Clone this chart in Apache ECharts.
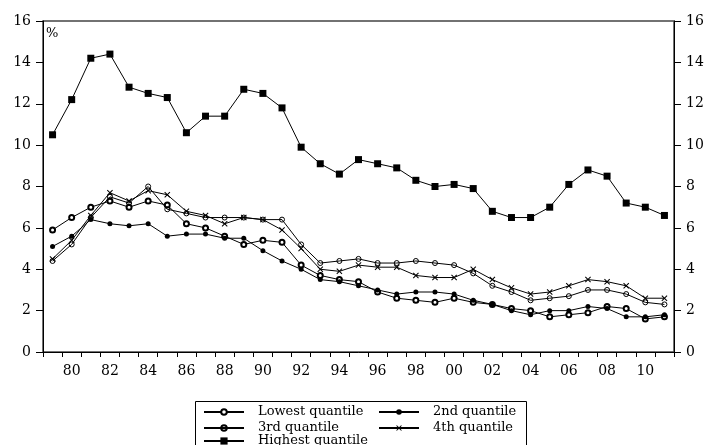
<!DOCTYPE html>
<html><head><meta charset="utf-8">
<script src="https://cdn.jsdelivr.net/npm/echarts@6/dist/echarts.min.js"></script>
<style>html,body{margin:0;padding:0;background:#fff}#c{width:707px;height:445px}</style>
</head><body><div id="c"></div>
<script>
const years = [1979,1980,1981,1982,1983,1984,1985,1986,1987,1988,1989,1990,1991,1992,1993,1994,1995,1996,1997,1998,1999,2000,2001,2002,2003,2004,2005,2006,2007,2008,2009,2010,2011];
const lowest  = [5.9,6.5,7.0,7.3,7.0,7.3,7.1,6.2,6.0,5.6,5.2,5.4,5.3,4.2,3.7,3.5,3.4,2.9,2.6,2.5,2.4,2.6,2.4,2.3,2.1,2.0,1.7,1.8,1.9,2.2,2.1,1.6,1.7];
const second  = [5.1,5.6,6.4,6.2,6.1,6.2,5.6,5.7,5.7,5.5,5.5,4.9,4.4,4.0,3.5,3.4,3.2,3.0,2.8,2.9,2.9,2.8,2.5,2.3,2.0,1.8,2.0,2.0,2.2,2.1,1.7,1.7,1.8];
const third   = [4.4,5.2,6.5,7.5,7.2,8.0,6.9,6.7,6.5,6.5,6.5,6.4,6.4,5.2,4.3,4.4,4.5,4.3,4.3,4.4,4.3,4.2,3.8,3.2,2.9,2.5,2.6,2.7,3.0,3.0,2.8,2.4,2.3];
const fourth  = [4.5,5.4,6.6,7.7,7.3,7.8,7.6,6.8,6.6,6.2,6.5,6.4,5.9,5.0,4.0,3.9,4.2,4.1,4.1,3.7,3.6,3.6,4.0,3.5,3.1,2.8,2.9,3.2,3.5,3.4,3.2,2.6,2.6];
const highest = [10.5,12.2,14.2,14.4,12.8,12.5,12.3,10.6,11.4,11.4,12.7,12.5,11.8,9.9,9.1,8.6,9.3,9.1,8.9,8.3,8.0,8.1,7.9,6.8,6.5,6.5,7.0,8.1,8.8,8.5,7.2,7.0,6.6];
const names = ['Lowest quantile','2nd quantile','3rd quantile','4th quantile','Highest quantile'];

const FONT = 'DejaVu Serif';
const XPATH = 'path://M0,1.2L1.2,0L5,3.8L8.8,0L10,1.2L6.2,5L10,8.8L8.8,10L5,6.2L1.2,10L0,8.8L3.8,5Z';
const chart = echarts.init(document.getElementById('c'), null, {renderer:'canvas'});
function ser(name, data, symbol, size, itemStyle){
  return {name, type:'line', data, symbol, symbolSize:size, showSymbol:true,
    lineStyle:{color:'#000', width:1}, itemStyle, emphasis:{disabled:true}, animation:false, z: 3};
}
const yAxisBase = {type:'value', min:0, max:16, interval:2, splitLine:{show:false},
  axisLine:{show:true, lineStyle:{color:'#000', width:1}},
  axisTick:{show:true, length:7, lineStyle:{color:'#000'}},
  axisLabel:{color:'#000', fontFamily:FONT, fontSize:14, margin:12}};
function leg(name, left, center, h){
  return {data:[name], left, top:center - h/2, padding:0, itemWidth:40, itemHeight:h,
    textStyle:{fontFamily:FONT, fontSize:13, color:'#000', padding:[0,0,0,9]}, selectedMode:false};
}
chart.setOption({
  backgroundColor:'#fff',
  animation:false,
  grid:{left:43, right:33, top:21, bottom:93, show:true, borderColor:'#444', borderWidth:1.5},
  xAxis:{type:'category', data:years, boundaryGap:true,
    axisLine:{lineStyle:{color:'#000', width:1}},
    axisTick:{show:true, interval:0, length:5, lineStyle:{color:'#000'}},
    axisLabel:{interval:(i)=>i%2===1, formatter:(v)=>String(v).slice(2), color:'#000', fontFamily:FONT, fontSize:14, margin:12}},
  yAxis:[Object.assign({position:'left'}, yAxisBase), Object.assign({position:'right'}, yAxisBase)],
  legend:[leg(names[0],203,409,7), leg(names[1],378,409,7), leg(names[2],203,425,7), leg(names[3],378,425,7), leg(names[4],203,439,9)],
  graphic:[
    {type:'rect', left:193, top:399, shape:{width:331, height:60}, style:{fill:'none', stroke:'#000', lineWidth:1}, z:-1},
    {type:'text', left:46, top:27, style:{text:'%', font:'13px "DejaVu Serif"', fill:'#000'}}
  ],
  series:[
    ser(names[0], lowest, 'emptyCircle', 5, {color:'#000', borderWidth:1}),
    ser(names[1], second, 'circle', 5, {color:'#000'}),
    ser(names[2], third, 'circle', 5, {color:'rgba(0,0,0,0)', borderColor:'#000', borderWidth:1}),
    ser(names[3], fourth, XPATH, 6, {color:'#000'}),
    ser(names[4], highest, 'rect', 7, {color:'#000'})
  ]
});
</script></body></html>
